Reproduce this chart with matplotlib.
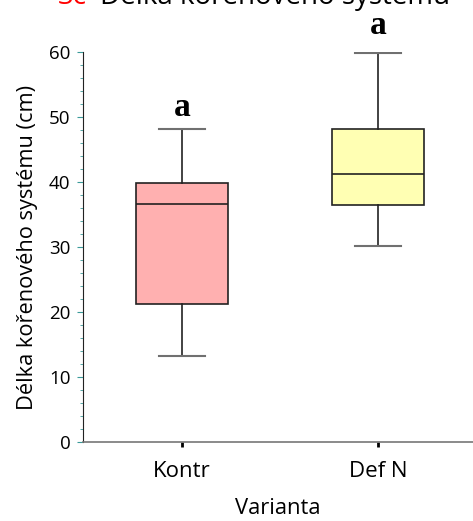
import matplotlib
matplotlib.use('Agg')
import matplotlib.pyplot as plt
from matplotlib.ticker import MultipleLocator

plt.rcParams['font.family'] = ['Open Sans', 'DejaVu Sans']

variants = ['Kontr', 'Def N']
whisk_lo = [13.2, 30.2]
q1 = [21.3, 36.4]
median = [36.6, 41.3]
q3 = [39.8, 48.1]
whisk_hi = [48.1, 59.8]
letters = ['a', 'a']
letter_gap = [2.0, 2.9]
colors = ['#FFB0B0', '#FFFFB3']

fig = plt.figure(figsize=(4.73, 5.21), dpi=100)
ax = fig.add_axes([0.1755, 0.1516, 0.8245, 0.7485])

stats = []
for i, name in enumerate(variants):
    stats.append({'label': name, 'whislo': whisk_lo[i], 'q1': q1[i], 'med': median[i],
                  'q3': q3[i], 'whishi': whisk_hi[i], 'fliers': []})

bp = ax.bxp(stats, positions=[1, 2], widths=0.47, patch_artist=True, showfliers=False,
            boxprops=dict(edgecolor='#222222', linewidth=1.2),
            medianprops=dict(color='#222222', linewidth=1.2),
            whiskerprops=dict(color='#222222', linewidth=1.2),
            capprops=dict(color='#707070', linewidth=1.5), capwidths=0.235)
for patch, c in zip(bp['boxes'], colors):
    patch.set_facecolor(c)

for i, l in enumerate(letters):
    ax.text(i + 1, whisk_hi[i] + letter_gap[i], l, ha='center', va='baseline', fontsize=24,
            fontweight='bold', family='Liberation Serif', clip_on=False)

ax.set_xlim(0.495, 2.485)
ax.set_ylim(0, 60)
ax.yaxis.set_major_locator(MultipleLocator(10))
ax.yaxis.set_minor_locator(MultipleLocator(2))
ax.tick_params(axis='y', which='both', direction='out', color='#3a9a9a', labelsize=13.5)
ax.tick_params(axis='y', which='major', length=4, pad=5)
ax.tick_params(axis='y', which='minor', length=2.5)
ax.tick_params(axis='x', length=3.5, width=2, color='black', labelsize=16, pad=10)
ax.spines['top'].set_visible(False)
ax.spines['right'].set_visible(False)
ax.spines['left'].set_color('#222222')
ax.spines['bottom'].set_color('#777777')
ax.spines['bottom'].set_linewidth(1.2)

ax.set_ylabel('Délka kořenového systému (cm)', fontsize=15.7, labelpad=8)
ax.set_xlabel('Varianta', fontsize=15.8, labelpad=12)

fig.text(0.123, 1 - 4 / 521, '3c', color='red', fontsize=20, va='baseline', ha='left')
fig.text(0.211, 1 - 4 / 521, 'Délka kořenového systému', color='black', fontsize=20,
         va='baseline', ha='left')

fig.savefig('out.png', dpi=100)
